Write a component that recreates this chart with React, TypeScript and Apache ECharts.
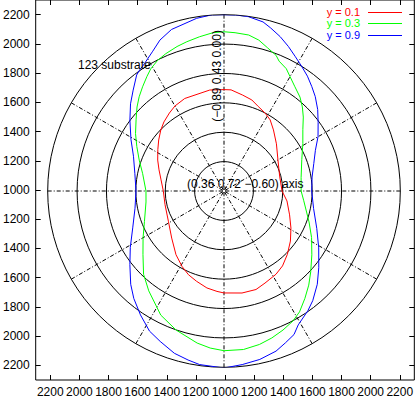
import React, { useEffect, useRef } from "react";
import * as echarts from "echarts";

// Axis ticks (offset from centre; labels show 1000 + |offset|)
const AXIS_TICKS = [-1200, -1000, -800, -600, -400, -200, 0, 200, 400, 600, 800, 1000, 1200];
const AXIS_LIMIT = 1300;
const R_MIN = 1000;
const R_MAX = 2200;

const seriesNames = ["y = 0.1", "y = 0.3", "y = 0.9"];
const seriesColors = ["#ff0000", "#00ff00", "#0000ff"];

const redAngles = [0, 15, 30, 42, 51, 57, 62, 68, 73, 79, 86, 90, 98, 113, 120, 125, 131, 136, 142, 148, 155, 162, 170, 180, 193, 209, 222, 233, 241, 247, 253, 260, 266, 270, 280, 288, 294, 302, 308, 315, 323, 331, 340, 351, 360];
const redR = [1395, 1392, 1424, 1480, 1535, 1577, 1599, 1621, 1648, 1665, 1690, 1690, 1694, 1684, 1668, 1648, 1623, 1598, 1564, 1531, 1498, 1465, 1435, 1413, 1412, 1432, 1479, 1543, 1588, 1619, 1642, 1670, 1685, 1694, 1705, 1705, 1686, 1668, 1647, 1610, 1566, 1521, 1475, 1434, 1395];

const greenAngles = [0, 10, 22, 31, 38, 43, 47, 51, 56, 60, 63, 67, 69, 73, 77, 81, 86, 90, 94, 99, 104, 108, 113, 117, 121, 124, 128, 132, 136, 141, 147, 153, 160, 168, 180, 188, 201, 210, 218, 226, 233, 243, 251, 260, 265, 270, 277, 283, 288, 293, 298, 302, 307, 312, 317, 324, 332, 340, 353, 360];
const greenR = [1525, 1533, 1571, 1626, 1681, 1738, 1782, 1822, 1860, 1899, 1934, 1960, 1989, 2018, 2054, 2075, 2080, 2084, 2080, 2063, 2047, 2034, 2015, 1997, 1969, 1939, 1900, 1863, 1823, 1770, 1718, 1666, 1614, 1566, 1531, 1536, 1580, 1636, 1700, 1788, 1851, 1948, 2001, 2051, 2073, 2087, 2087, 2072, 2052, 2028, 2001, 1970, 1915, 1862, 1807, 1739, 1675, 1616, 1547, 1525];

const blueAngles = [0, 9, 17, 24, 30, 36, 41, 46, 50, 54, 58, 62, 66, 70, 74, 77, 82, 86, 90, 94, 99, 108, 113, 117, 122, 125, 127, 132, 137, 143, 151, 159, 169, 180, 191, 202, 211, 218, 225, 230, 236, 242, 247, 253, 258, 262, 270, 276, 282, 288, 292, 296, 299, 305, 309, 315, 321, 329, 338, 349, 360];
const blueR = [1597, 1607, 1639, 1681, 1739, 1792, 1845, 1894, 1929, 1966, 1999, 2035, 2077, 2118, 2154, 2181, 2198, 2201, 2200, 2202, 2190, 2156, 2116, 2068, 2022, 2003, 1988, 1924, 1870, 1802, 1724, 1660, 1618, 1599, 1617, 1670, 1744, 1813, 1898, 1955, 2017, 2080, 2112, 2155, 2176, 2193, 2205, 2188, 2172, 2146, 2115, 2087, 2042, 1995, 1960, 1898, 1830, 1752, 1681, 1621, 1597];

const annotations = ["123 substrate", "(0.36 0.72 \u22120.60) axis", "(\u22120.89 0.43 0.00)"];

const FONT = "12px 'Liberation Sans', Arial, sans-serif";
const LEGEND_FONT = "11px 'Liberation Sans', Arial, sans-serif";

export default function App() {
  const ref = useRef<HTMLDivElement>(null);
  useEffect(() => {
    if (!ref.current) return;
    const chart = echarts.init(ref.current, undefined, { renderer: "svg" });
    const pairs = (a: number[], r: number[]) => a.map((ang, i) => [r[i], ang]);
    const allSeries = [
      pairs(redAngles, redR),
      pairs(greenAngles, greenR),
      pairs(blueAngles, blueR),
    ];
    const left = 33, top = 0, size = 382;
    const cx = left + size / 2;
    const cy = top + size / 2;
    const pxPerUnit = size / 2 / AXIS_LIMIT;
    const polarRadius = (R_MAX - R_MIN) * pxPerUnit;
    const fmt = (v: number) => String(R_MIN + Math.abs(v));
    const tickStyle = { show: true, inside: true, length: 5, lineStyle: { color: "#000", width: 1 }, customValues: AXIS_TICKS };
    const labelStyle = { color: "#000", fontSize: 12, fontFamily: "'Liberation Sans', Arial, sans-serif" };
    const noLine = { show: false, onZero: false };

    const legendGraphics: any[] = [];
    seriesNames.forEach((name, i) => {
      const y = 11.5 + i * 11.5;
      legendGraphics.push({
        type: "text",
        x: 360,
        y,
        style: { text: name, fill: seriesColors[i], font: LEGEND_FONT, align: "right", verticalAlign: "middle" },
      });
      legendGraphics.push({
        type: "line",
        shape: { x1: 368, y1: Math.round(y) + 0.5, x2: 402, y2: Math.round(y) + 0.5 },
        style: { stroke: seriesColors[i], lineWidth: 1 },
      });
    });

    chart.setOption({
      animation: false,
      backgroundColor: "#fff",
      grid: { left, top, width: size, height: size, show: true, borderColor: "#000", borderWidth: 1, backgroundColor: "transparent" },
      xAxis: [
        {
          type: "value", position: "bottom", min: -AXIS_LIMIT, max: AXIS_LIMIT,
          axisLine: noLine, splitLine: { show: false },
          axisTick: tickStyle,
          axisLabel: { ...labelStyle, margin: 6, formatter: fmt, customValues: AXIS_TICKS },
        },
        {
          type: "value", position: "top", min: -AXIS_LIMIT, max: AXIS_LIMIT,
          axisLine: noLine, splitLine: { show: false },
          axisTick: tickStyle, axisLabel: { show: false },
        },
      ],
      yAxis: [
        {
          type: "value", position: "left", min: -AXIS_LIMIT, max: AXIS_LIMIT,
          axisLine: noLine, splitLine: { show: false },
          axisTick: tickStyle,
          axisLabel: { ...labelStyle, margin: 6, formatter: fmt, customValues: AXIS_TICKS },
        },
        {
          type: "value", position: "right", min: -AXIS_LIMIT, max: AXIS_LIMIT,
          axisLine: noLine, splitLine: { show: false },
          axisTick: tickStyle, axisLabel: { show: false },
        },
      ],
      polar: { center: [cx, cy], radius: polarRadius },
      angleAxis: {
        type: "value", min: 0, max: 360, interval: 30, startAngle: 0, clockwise: false,
        axisLine: { show: false }, axisTick: { show: false }, axisLabel: { show: false },
        splitLine: { show: true, lineStyle: { color: "#000", width: 1, type: [4, 2, 1, 2] } },
      },
      radiusAxis: {
        type: "value", min: R_MIN, max: R_MAX, interval: 200,
        axisLine: { show: false }, axisTick: { show: false }, axisLabel: { show: false },
        splitLine: { show: true, lineStyle: { color: "#000", width: 1 } },
      },
      series: allSeries.map((data, i) => ({
        type: "line",
        name: seriesNames[i],
        coordinateSystem: "polar",
        data,
        showSymbol: false,
        symbol: "none",
        clip: false,
        lineStyle: { color: seriesColors[i], width: 1 },
        z: 3 + i,
      })),
      graphic: [
        ...legendGraphics,
        { type: "text", x: 78, y: 65, style: { text: annotations[0], fill: "#000", font: FONT, align: "left", verticalAlign: "middle" }, z: 10 },
        { type: "text", x: 187, y: 184, style: { text: annotations[1], fill: "#000", font: FONT, align: "left", verticalAlign: "middle" }, z: 10 },
        { type: "text", x: 217, y: 76, rotation: Math.PI / 2, style: { text: annotations[2], fill: "#000", font: FONT, align: "center", verticalAlign: "middle" }, z: 10 },
      ],
    });
    return () => chart.dispose();
  }, []);
  return <div ref={ref} style={{ position: "fixed", left: 0, top: 0, width: 416, height: 398, background: "#fff" }} />;
}
